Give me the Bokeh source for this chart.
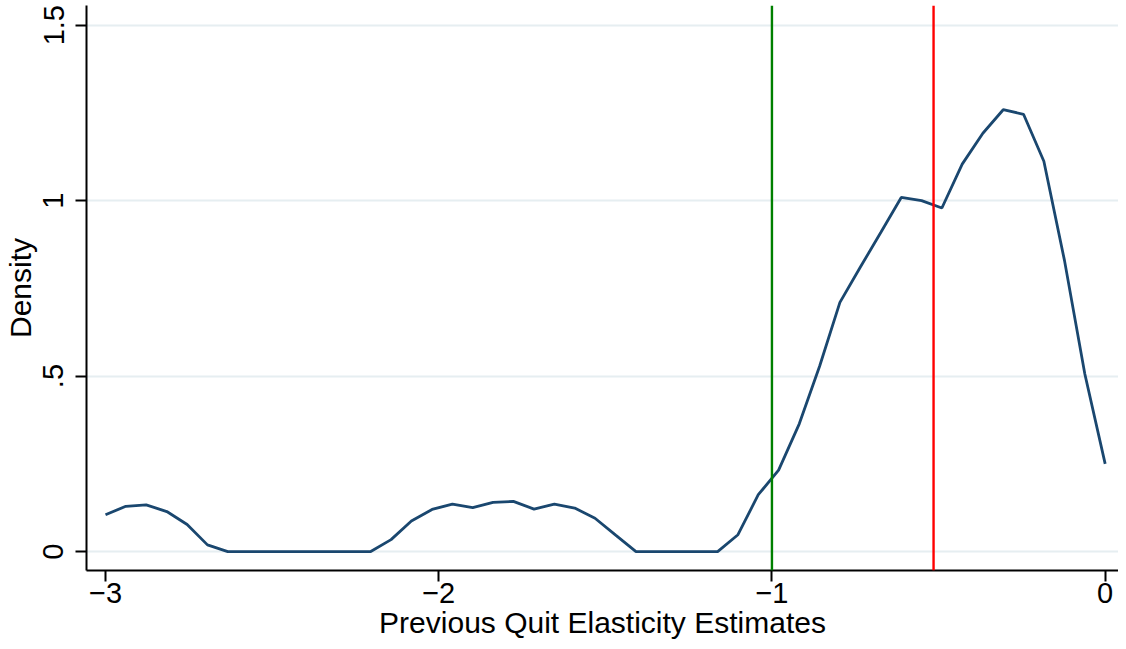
from bokeh.plotting import figure
from bokeh.models import Span, FixedTicker, Range1d
from bokeh.embed import file_html
from bokeh.resources import INLINE

# Kernel density estimate of previous quit elasticity estimates
elasticity = [-3.000, -2.939, -2.878, -2.816, -2.755, -2.694, -2.633, -2.571, -2.510, -2.449,
              -2.388, -2.327, -2.265, -2.204, -2.143, -2.082, -2.020, -1.959, -1.898, -1.837,
              -1.776, -1.714, -1.653, -1.592, -1.531, -1.469, -1.408, -1.347, -1.286, -1.224,
              -1.163, -1.102, -1.041, -0.980, -0.918, -0.857, -0.796, -0.735, -0.673, -0.612,
              -0.551, -0.490, -0.429, -0.367, -0.306, -0.245, -0.184, -0.122, -0.061, 0.000]
density = [0.105, 0.129, 0.133, 0.114, 0.077, 0.019, 0.000, 0.000, 0.000, 0.000,
           0.000, 0.000, 0.000, 0.000, 0.034, 0.087, 0.120, 0.135, 0.125, 0.140,
           0.143, 0.121, 0.135, 0.124, 0.095, 0.047, 0.000, 0.000, 0.000, 0.000,
           0.000, 0.048, 0.162, 0.232, 0.364, 0.528, 0.710, 0.810, 0.910, 1.009,
           1.000, 0.979, 1.104, 1.192, 1.259, 1.246, 1.112, 0.829, 0.506, 0.250]

green_line = [-1.0]
red_line = [-0.515]

x_ticks = [-3, -2, -1, 0]
x_tick_labels = ["\u22123", "\u22122", "\u22121", "0"]
y_ticks = [0, 0.5, 1, 1.5]
y_tick_labels = ["0", ".5", "1", "1.5"]

FONT = "Liberation Sans"
FS_TICK = "29px"
FS_TITLE = "30px"

p = figure(width=1118, height=641, output_backend="svg", toolbar_location=None,
           x_range=Range1d(-3.057, 0.040), y_range=Range1d(-0.054, 1.556),
           min_border_left=86, min_border_right=0, min_border_top=5, min_border_bottom=10)
p.outline_line_color = None
p.background_fill_color = "white"
p.border_fill_color = "white"

p.xgrid.grid_line_color = None
p.ygrid.grid_line_color = "#e6eef1"
p.ygrid.grid_line_width = 2
p.ygrid.ticker = FixedTicker(ticks=y_ticks)

p.xaxis.ticker = FixedTicker(ticks=x_ticks)
p.yaxis.ticker = FixedTicker(ticks=y_ticks)
p.xaxis.major_label_overrides = dict(zip(x_ticks, x_tick_labels))
p.yaxis.major_label_overrides = dict(zip(y_ticks, y_tick_labels))
p.yaxis.major_label_orientation = "vertical"

for ax in (p.xaxis, p.yaxis):
    ax.axis_line_color = "black"
    ax.axis_line_width = 2
    ax.major_tick_line_color = "black"
    ax.major_tick_line_width = 2
    ax.major_tick_out = 11
    ax.major_tick_in = 0
    ax.minor_tick_line_color = None
    ax.major_label_text_font = FONT
    ax.major_label_text_font_size = FS_TICK
    ax.major_label_text_color = "black"
    ax.axis_label_text_font = FONT
    ax.axis_label_text_font_size = FS_TITLE
    ax.axis_label_text_font_style = "normal"
    ax.axis_label_text_color = "black"

p.xaxis.axis_label = "Previous Quit Elasticity Estimates"
p.yaxis.axis_label = "Density"
p.xaxis.major_label_standoff = 1
p.xaxis.axis_label_standoff = 0
p.yaxis.major_label_standoff = 12
p.yaxis.axis_label_standoff = 4

p.line(elasticity, density, line_color="#1a476f", line_width=2.8)

for loc in green_line:
    p.add_layout(Span(location=loc, dimension="height", line_color="#008000", line_width=2.4))
for loc in red_line:
    p.add_layout(Span(location=loc, dimension="height", line_color="#ff0000", line_width=2.4))

open("out.html", "w").write(file_html(p, INLINE))
